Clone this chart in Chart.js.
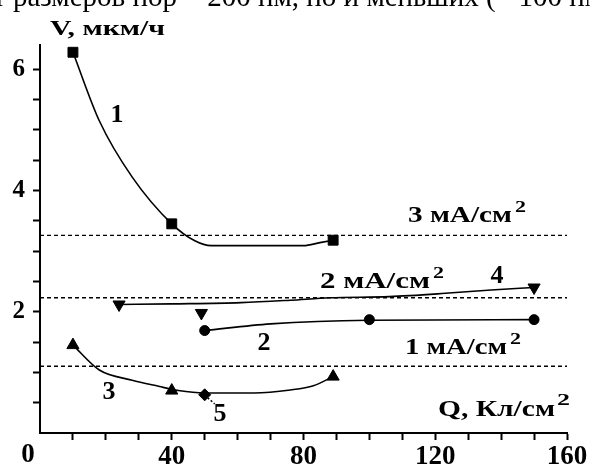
<!DOCTYPE html>
<html>
<head>
<meta charset="utf-8">
<script src="https://cdn.jsdelivr.net/npm/chart.js@4"></script>
<style>
  body { margin: 0; background: #fff; }
  canvas { display: block; }
</style>
</head>
<body>
<canvas id="chart" width="590" height="465"></canvas>
<script>
// measured points: Q (Кл/см²) and V (мкм/ч)
const q1 = [10, 40, 89];
const v1 = [6.28, 3.45, 3.18];
const q2 = [50, 100, 150];
const v2 = [1.69, 1.87, 1.87];
const q3 = [10, 40, 89];
const v3 = [1.45, 0.70, 0.93];
const q4 = [24, 49, 150];
const v4 = [2.12, 1.98, 2.40];
const q5 = [50];
const v5 = [0.63];

// hand-fitted curves through the points
const fit1Q = [10, 18, 28, 40, 47, 52, 80, 85, 89];
const fit1V = [6.28, 5.15, 4.22, 3.45, 3.17, 3.09, 3.09, 3.14, 3.18];
const fit2Q = [50, 70, 100, 150];
const fit2V = [1.69, 1.80, 1.86, 1.87];
const fit3Q = [10, 18, 28, 36, 42, 50, 65, 76, 83, 89];
const fit3V = [1.45, 1.04, 0.87, 0.77, 0.70, 0.66, 0.66, 0.71, 0.78, 0.93];
const fit4Q = [24, 40, 61, 76, 88, 106, 122, 137, 150];
const fit4V = [2.12, 2.13, 2.15, 2.19, 2.23, 2.25, 2.30, 2.36, 2.40];

// current density levels
const levelV = [3.26, 2.23, 1.10];
const levelNames = ['3 мА/см', '2 мА/см', '1 мА/см'];

const xTickLabels = [40, 80, 120, 160];
const yTickLabels = [2, 4, 6];

const serif = '"Liberation Serif", "Times New Roman", serif';

function pts(xs, ys) {
    return xs.map((x, i) => ({ x: x, y: ys[i] }));
}

function curve(xs, ys) {
    return {
        data: pts(xs, ys),
        showLine: true,
        borderColor: '#000',
        borderWidth: 1.6,
        pointRadius: 0,
        cubicInterpolationMode: 'monotone'
    };
}

function marks(xs, ys, style, radius, rotation) {
    return {
        data: pts(xs, ys),
        showLine: false,
        pointStyle: style,
        pointRadius: radius,
        pointRotation: rotation || 0,
        backgroundColor: '#000',
        borderColor: '#000',
        borderWidth: 1
    };
}

function level(v) {
    return {
        data: [{ x: 0, y: v }, { x: 160, y: v }],
        showLine: true,
        borderColor: '#000',
        borderWidth: 1.4,
        borderDash: [4, 3],
        pointRadius: 0
    };
}

// bold text squeezed/stretched to span x1..x2
function fitText(ctx, text, x1, x2, base, size) {
    ctx.font = 'bold ' + size + 'px ' + serif;
    const w = ctx.measureText(text).width;
    ctx.save();
    ctx.translate(x1, base);
    ctx.scale((x2 - x1) / w, 1);
    ctx.fillText(text, 0, 0);
    ctx.restore();
}

function centerText(ctx, text, cx, base, size) {
    ctx.font = 'bold ' + size + 'px ' + serif;
    ctx.textAlign = 'center';
    ctx.fillText(text, cx, base);
    ctx.textAlign = 'left';
}

const annotations = {
    id: 'annotations',
    afterDraw(chart) {
        const ctx = chart.ctx;
        const xs = chart.scales.x;
        ctx.save();
        ctx.fillStyle = '#000';
        ctx.textBaseline = 'alphabetic';

        // cut-off line of the surrounding text
        ctx.font = '29px ' + serif;
        ctx.fillText('т размеров пор ~ 200 нм, но и меньших (~ 100 нм)', -7, 6);

        // axis titles
        fitText(ctx, 'V, мкм/ч', 50, 165, 35, 22);
        fitText(ctx, 'Q, Кл/см', 438, 555, 416, 24);
        fitText(ctx, '2', 557, 570, 405, 17);

        // level captions
        const cap = [[408, 512, 222], [320, 430, 288], [405, 507, 354]];
        cap.forEach((c, i) => {
            fitText(ctx, levelNames[i], c[0], c[1], c[2], 24);
            fitText(ctx, '2', c[1] + 3, c[1] + 14, c[2] - 10, 16);
        });

        // curve numbers
        centerText(ctx, '1', 117, 122, 26);
        centerText(ctx, '2', 264, 350, 26);
        centerText(ctx, '3', 109, 399, 26);
        centerText(ctx, '4', 497, 283, 26);
        centerText(ctx, '5', 220, 421, 26);

        // leader from point 5 to its number
        const px = xs.getPixelForValue(q5[0]);
        const py = chart.scales.y.getPixelForValue(v5[0]);
        ctx.strokeStyle = '#000';
        ctx.lineWidth = 1.5;
        ctx.setLineDash([2, 2]);
        ctx.beginPath();
        ctx.moveTo(px + 3, py + 3);
        ctx.lineTo(px + 10, py + 9);
        ctx.stroke();

        // zero label sits left of the origin
        centerText(ctx, '0', xs.getPixelForValue(0) - 12, 462, 27);
        ctx.restore();
    }
};

const near = (list, v) => list.some(t => Math.abs(t - v) < 1e-6);

new Chart(document.getElementById('chart'), {
    type: 'scatter',
    data: {
        datasets: [
            level(levelV[0]), level(levelV[1]), level(levelV[2]),
            curve(fit1Q, fit1V), curve(fit2Q, fit2V), curve(fit3Q, fit3V), curve(fit4Q, fit4V),
            marks(q1, v1, 'rect', 7),
            marks(q2, v2, 'circle', 5),
            marks(q3, v3, 'triangle', 7),
            marks(q4, v4, 'triangle', 7, 180),
            marks(q5, v5, 'rectRot', 6)
        ]
    },
    options: {
        responsive: false,
        animation: false,
        layout: { padding: { left: 0, top: 45, right: 23, bottom: 0 } },
        plugins: { legend: { display: false }, tooltip: { enabled: false } },
        scales: {
            x: {
                type: 'linear',
                min: 0,
                max: 160,
                afterBuildTicks: (s) => { s.ticks = s.ticks.filter(t => t.value > 0); },
                afterFit: (s) => { s.height = 32; },
                ticks: {
                    stepSize: 10,
                    autoSkip: false,
                    maxRotation: 0,
                    padding: 1,
                    color: '#000',
                    font: { family: serif, size: 27, weight: 'bold' },
                    callback: (v) => near(xTickLabels, v) ? Math.round(v) : ''
                },
                grid: { drawOnChartArea: false, tickLength: 7, tickWidth: 2, tickColor: '#000' },
                border: { color: '#000', width: 2 }
            },
            y: {
                type: 'linear',
                min: 0,
                max: 6.4,
                afterBuildTicks: (s) => {
                    s.ticks = s.ticks.filter(t => t.value > 0 && t.value < 6.3);
                },
                afterFit: (s) => { s.width = 40; },
                ticks: {
                    stepSize: 0.5,
                    includeBounds: false,
                    autoSkip: false,
                    padding: 8,
                    color: '#000',
                    font: { family: serif, size: 25, weight: 'bold' },
                    callback: (v) => near(yTickLabels, v) ? Math.round(v) : ''
                },
                grid: { drawOnChartArea: false, tickLength: 7, tickWidth: 2, tickColor: '#000' },
                border: { color: '#000', width: 2 }
            }
        }
    },
    plugins: [annotations]
});
</script>
</body>
</html>
